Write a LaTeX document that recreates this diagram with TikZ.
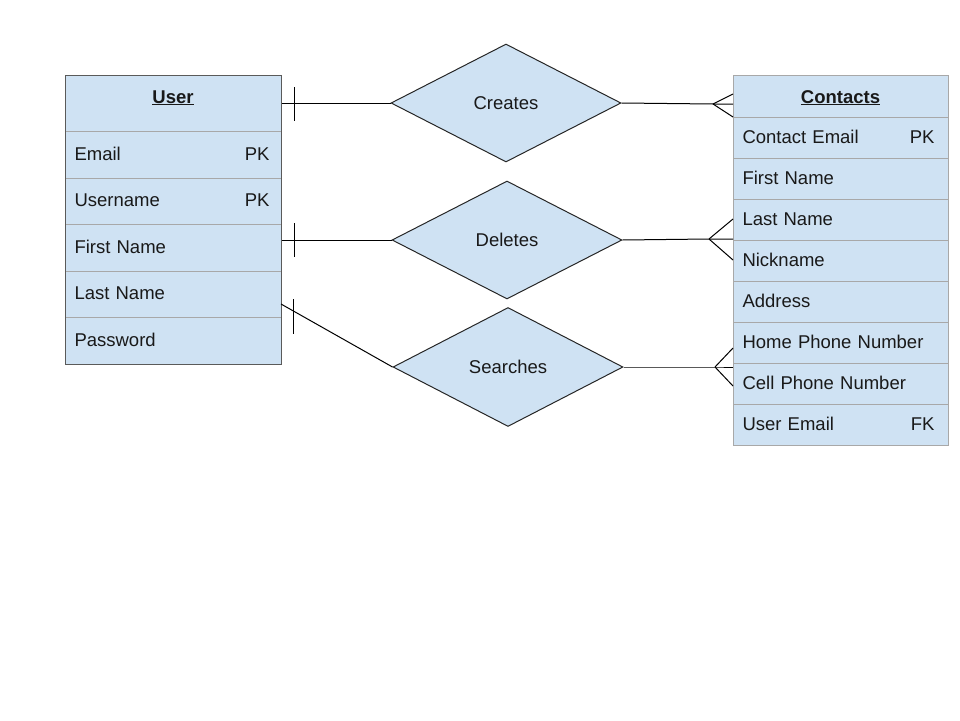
\documentclass[tikz,border=0pt]{standalone}
\usepackage{fontspec}
\setmainfont{Liberation Sans}
\usetikzlibrary{shapes.geometric}
\definecolor{erblue}{HTML}{CFE2F3}
\definecolor{rowline}{HTML}{A8A8A8}
\definecolor{sideline}{HTML}{5A5A5A}

\begin{document}
\begin{tikzpicture}[x=1pt, y=-1pt, line width=1pt,
    every node/.style={font=\fontsize{18.5}{22}\selectfont, inner sep=0pt, text=black!90},
    tablerow/.style={rectangle, draw=rowline, fill=erblue, anchor=north west, align=left, text height=13.5pt, text depth=3pt},
    usercol/.style={tablerow, minimum width=216pt, minimum height=46.6pt, text width=198pt},
    contactcol/.style={tablerow, minimum width=215pt, minimum height=41pt, text width=197pt},
    relation/.style={diamond, aspect=2, draw=black!85, fill=erblue, minimum width=230pt, minimum height=118pt}]
    \useasboundingbox (0,0) rectangle (960,720);

    % user table
    \node[usercol, minimum height=56pt] (userhead) at (65,75) {};
    \node[anchor=base] (usertitle) at (173,103) {\underline{\textbf{User}}};
    \node[usercol] (email) at (65,131) {Email\hfill PK\hspace*{3pt}};
    \node[usercol] (username) at (65,177.6) {Username\hfill PK\hspace*{3pt}};
    \node[usercol] (userfirst) at (65,224.2) {First Name};
    \node[usercol] (userlast) at (65,270.8) {Last Name};
    \node[usercol] (password) at (65,317.4) {Password};
    \node[draw=sideline, anchor=north west, minimum width=216pt, minimum height=289pt] (user) at (65,75) {};

    % contacts table
    \node[contactcol, minimum height=42pt] (contacthead) at (733,75) {};
    \node[anchor=base] (contacttitle) at (840.5,103) {\underline{\textbf{Contacts}}};
    \node[contactcol] (contactemail) at (733,117) {Contact Email\hfill PK\hspace*{5pt}};
    \node[contactcol] (firstname) at (733,158) {First Name};
    \node[contactcol] (lastname) at (733,199) {Last Name};
    \node[contactcol] (nickname) at (733,240) {Nickname};
    \node[contactcol] (address) at (733,281) {Address};
    \node[contactcol] (homephone) at (733,322) {Home Phone Number};
    \node[contactcol] (cellphone) at (733,363) {Cell Phone Number};
    \node[contactcol] (useremail) at (733,404) {User Email\hfill FK\hspace*{5pt}};
    \node[draw=rowline, anchor=north west, minimum width=215pt, minimum height=370pt] (contacts) at (733,75) {};

    % relations
    \node[relation] (creates) at (506,103) {Creates};
    \node[relation] (deletes) at (507,240) {Deletes};
    \node[relation, minimum height=119pt] (searches) at (508,367) {Searches};

    % one side
    \draw (creates.west) -- (creates.west -| user.east);
    \draw (deletes.west) -- (deletes.west -| user.east);
    \coordinate (usersearch) at (281,304);
    \draw (searches.west) -- (usersearch);
    \draw (creates.west -| user.east) ++(12,-16) -- ++(0,34);
    \draw (deletes.west -| user.east) ++(12,-17) -- ++(0,34);
    \draw (usersearch) ++(12,-5) -- ++(0,35);

    % many side
    \coordinate (cfcreates) at (713,104);
    \coordinate (cfdeletes) at (709,239);
    \coordinate (cfsearches) at (715,367);
    \draw (creates.east) -- (cfcreates) -- (cfcreates -| contacts.west);
    \draw (cfcreates) -- ++(20,-10);
    \draw (cfcreates) -- ++(20,13);
    \draw (deletes.east) -- (cfdeletes) -- (cfdeletes -| contacts.west);
    \draw (cfdeletes) -- ++(24,-20);
    \draw (cfdeletes) -- ++(24,21);
    \draw (searches.east) -- (cfsearches) -- (cfsearches -| contacts.west);
    \draw (cfsearches) -- ++(18,-19);
    \draw (cfsearches) -- ++(18,19);
\end{tikzpicture}
\end{document}
